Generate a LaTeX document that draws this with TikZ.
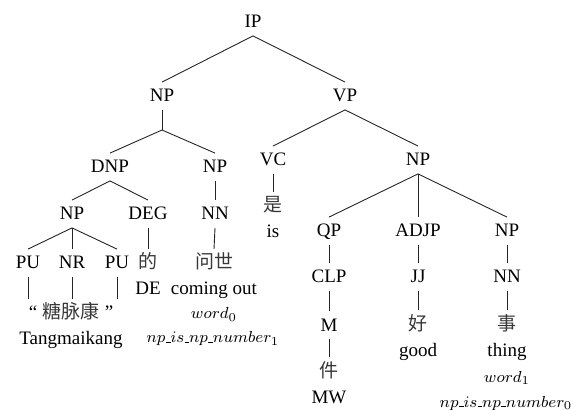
\RequirePackage{fix-cm}
\documentclass[tikz,border=0pt]{standalone}
\usepackage[no-math]{fontspec}
\setmainfont{Liberation Serif}
\newfontfamily\zh{Noto Sans CJK SC}
% short baseline underscore, as in Computer Modern
\newcommand\uscore{\kern.03em\rule{0.28em}{0.04em}}
\begin{document}
\begin{tikzpicture}[x=0.5pt,y=-0.5pt,
  lab/.style={inner xsep=0pt,inner ysep=3.75pt,text height=6pt,text depth=0pt,
    font=\fontsize{9.5}{11}\selectfont},
  zhlab/.style={lab,font=\zh\fontsize{9.5}{11}\selectfont,text=black!78},
  mlab/.style={lab,font=\fontsize{8}{10}\selectfont},
  edge/.style={draw=black!85,line width=0.45pt}]
\useasboundingbox (0,0) rectangle (571,410);

% phrase and tag nodes
\node[lab] (ip)   at (253,22)  {IP};
\node[lab] (np1)  at (162,96)  {NP};
\node[lab] (vp)   at (345,96)  {VP};
\node[lab] (dnp)  at (110,167) {DNP};
\node[lab] (np2)  at (215,167) {NP};
\node[lab] (vc)   at (273,160) {VC};
\node[lab] (np3)  at (418,160) {NP};
\node[lab] (np4)  at (72,214)  {NP};
\node[lab] (deg)  at (148,214) {DEG};
\node[lab] (nn1)  at (215,214) {NN};
\node[lab] (qp)   at (329,231) {QP};
\node[lab] (adjp) at (418,231) {ADJP};
\node[lab] (np5)  at (507,231) {NP};
\node[lab] (pu1)  at (28,263)  {PU};
\node[lab] (nr)   at (72,263)  {NR};
\node[lab] (pu2)  at (117,263) {PU};
\node[lab] (clp)  at (329,277) {CLP};
\node[lab] (jj)   at (418,277) {JJ};
\node[lab] (nn2)  at (507,277) {NN};
\node[lab] (m)    at (329,325) {M};
\coordinate (np1j) at (162,130);

% words
\node[zhlab] (shi)    at (273,206) {是};
\node[zhlab] (de)     at (148,263) {的};
\node[zhlab] (wenshi) at (214,263) {问世};
\node[lab]   (q1)     at (33,313)  {“};
\node[zhlab] (tmk)    at (71,313)  {糖脉康};
\node[lab]   (q2)     at (109,313) {”};
\node[zhlab] (hao)    at (418,324) {好};
\node[zhlab] (shi2)   at (507,324) {事};
\node[zhlab] (jian)   at (329,371) {件};

% glosses and annotations
\node[lab] (gis)    at (273,232) {is};
\node[lab] (gde)    at (148,289) {DE};
\node[lab] (gcome)  at (214,289) {coming out};
\node[lab] (gtang)  at (71,338)  {Tangmaikang};
\node[lab] (ggood)  at (418,351) {good};
\node[lab] (gthing) at (507,351) {thing};
\node[lab] (gmw)    at (329,397) {MW};
\node[mlab] (w0) at (214,313) {$word_0$};
\node[mlab] (n1) at (213,337) {$np\uscore is\uscore np\uscore number_1$};
\node[mlab] (w1) at (507,376) {$word_1$};
\node[mlab] (n0) at (506,401) {$np\uscore is\uscore np\uscore number_0$};

% branches
\draw[edge] (ip.south) -- (np1.north);
\draw[edge] (ip.south) -- (vp.north);
\draw[edge] (np1.south) -- (np1j);
\draw[edge] (np1j) -- (dnp.north);
\draw[edge] (np1j) -- (np2.north);
\draw[edge] (vp.south) -- (vc.north);
\draw[edge] (vp.south) -- (np3.north);
\draw[edge] (dnp.south) -- (np4.north);
\draw[edge] (dnp.south) -- (deg.north);
\draw[edge] (np2.south) -- (nn1.north);
\draw[edge] (vc.south) -- (shi.north);
\draw[edge] (np3.south) -- (qp.north);
\draw[edge] (np3.south) -- (adjp.north);
\draw[edge] (np3.south) -- (np5.north);
\draw[edge] (np4.south) -- (pu1.north);
\draw[edge] (np4.south) -- (nr.north);
\draw[edge] (np4.south) -- (pu2.north);
\draw[edge] (deg.south) -- (de.north);
\draw[edge] (nn1.south) -- (wenshi.north);
\draw[edge] (pu1.south) -- (pu1.south |- q1.north);
\draw[edge] (nr.south) -- (nr.south |- tmk.north);
\draw[edge] (pu2.south) -- (pu2.south |- q2.north);
\draw[edge] (qp.south) -- (clp.north);
\draw[edge] (clp.south) -- (m.north);
\draw[edge] (m.south) -- (jian.north);
\draw[edge] (adjp.south) -- (jj.north);
\draw[edge] (jj.south) -- (hao.north);
\draw[edge] (np5.south) -- (nn2.north);
\draw[edge] (nn2.south) -- (shi2.north);
\end{tikzpicture}
\end{document}
